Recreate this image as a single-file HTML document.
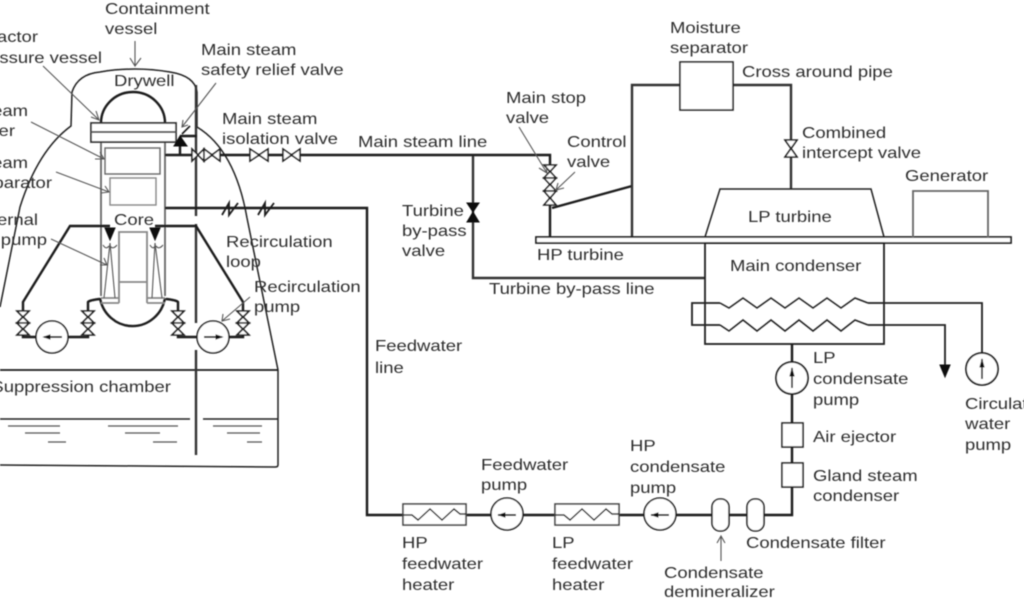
<!DOCTYPE html>
<html><head><meta charset="utf-8"><style>
html,body{margin:0;padding:0;background:#fff;width:1024px;height:600px;overflow:hidden}
svg{display:block}
text{font-family:"Liberation Sans",sans-serif;font-size:16px;fill:#2e2e2e;transform-box:fill-box;transform-origin:0 50%;transform:scaleX(1.155)}
text.e{transform-origin:100% 50%}
.l{fill:none;stroke:#1c1c1c;stroke-width:2.4}
.t{fill:none;stroke:#222;stroke-width:1.5}
.g{fill:none;stroke:#666;stroke-width:1.8}
.a{fill:none;stroke:#555;stroke-width:1.1}
.v{fill:#fff;stroke:#222;stroke-width:1.6}
.s{fill:#111;stroke:#111;stroke-width:1}
</style></head><body>
<svg width="1024" height="600" viewBox="0 0 1024 600" xmlns="http://www.w3.org/2000/svg">
<defs><filter id="b" x="-2%" y="-2%" width="104%" height="104%"><feGaussianBlur stdDeviation="0.55"/></filter></defs>
<g filter="url(#b)">
<!-- containment -->
<path class="t" d="M0 307 L20 207 Q38 150 71 126 L72 92 Q78 74 100 72 Q135 66 170 72 Q195 76 197 92 L197 127 Q235 150 247 218 L278 370 L278 465 Q278 467 275 467 L0 465"/>
<path class="l" style="stroke-width:1.8" d="M0 370 H278"/>
<path class="t" d="M0 419 H190 M203 419 H278"/>
<path class="l" d="M196 85 V127 M196 127 V216 M196 224 V323 M196 350 V455" style="stroke:#333"/>
<g stroke="#555" stroke-width="1.2"><path d="M8 426H60M25 433H60M48 442H66M108 426H178M125 433H160M153 442H177M213 426H262M227 433H260M247 442H262"/></g>
<!-- RPV -->
<path class="g" d="M101 142 V296 M165 142 V296"/>
<path class="l" d="M101 123 A32 31 0 0 1 165 123"/>
<rect x="91" y="123" width="85" height="19" fill="#fff" stroke="#333" stroke-width="1.8"/>
<path d="M91 132 H176" stroke="#555" stroke-width="2"/>
<rect x="105" y="148" width="55" height="26" fill="none" stroke="#666" stroke-width="1.4"/>
<rect x="110" y="178" width="46" height="27" fill="none" stroke="#888" stroke-width="1.4"/>
<path class="l" d="M100 298 A33 34 0 0 0 165 298"/>
<path class="g" style="stroke:#888" d="M119 303 V232 H147 V303 M119 282 H147 M101 303 H119 M147 303 H165 M101 298 H119 M147 298 H165"/>
<path class="a" d="M104 298 L110 243 M115 298 L110 243 M152 298 L155 243 M162 298 L155 243 M103 245 Q106 250 109 246 M110 246 Q113 250 117 245 M150 245 Q153 250 155 246 M156 246 Q159 250 163 245"/>
<!-- recirc -->
<path class="l" d="M110 226 H70 L23 302 V337 H88 V302 Q90 300 100 299"/>
<path class="l" d="M155 226 H196 L243 302 V337 H178 V302 Q176 300 166 299"/>
<path class="s" d="M105 228 H115 L110 240Z M150 228 H160 L155 240Z"/>
<circle cx="52" cy="337" r="16" fill="#fff" stroke="#222" stroke-width="1.6"/>
<circle cx="213" cy="337" r="16" fill="#fff" stroke="#222" stroke-width="1.6"/>
<path d="M44 337 H62 M204 337 H222" stroke="#111" stroke-width="1.8"/>
<path class="s" d="M44 337 L50 335 V339Z M222 337 L216 335 V339Z"/>
<g class="v"><path d="M17 311 H29 L17 323 H29Z"/><path d="M17 323 H29 L17 335 H29Z"/><path d="M82 311 H94 L82 323 H94Z"/><path d="M82 323 H94 L82 335 H94Z"/><path d="M172 311 H184 L172 323 H184Z"/><path d="M172 323 H184 L172 335 H184Z"/><path d="M237 311 H249 L237 323 H249Z"/><path d="M237 323 H249 L237 335 H249Z"/></g>
<!-- main steam -->
<path class="l" d="M165 155 H550 V240"/>
<path class="l" d="M473 156 V278 H705" style="stroke:#333"/>
<path class="l" d="M180 155 V144 M180 136 H197"/>
<path class="s" d="M174 146 H187 L180 136Z"/>
<path class="l" style="stroke-width:1.6" d="M182 134 L190 126"/>
<g class="v"><path d="M192 149 V161 L204 149 V161Z"/><path d="M204 149 V161 L220 149 V161Z"/><path d="M250 149 V161 L268 149 V161Z"/><path d="M283 149 V161 L300 149 V161Z"/></g>
<path class="s" d="M467 203 H479 L473 212 L479 222 H467 L473 212Z"/>
<g class="v"><path d="M544 165 H556 L544 178 H556Z"/><path d="M544 178 H556 L544 191 H556Z"/><path d="M544 191 H556 L544 205 H556Z"/></g>
<path class="l" d="M552 208 L632 186"/>
<path class="l" d="M632 240 V85 H680 M733 85 H791 V140 M791 157 V189" style="stroke:#333"/>
<rect x="680" y="62" width="53" height="48" fill="#fff" stroke="#222" stroke-width="1.6"/>
<path class="v" d="M785 140 H797 L785 157 H797Z"/>
<!-- shaft / turbine -->
<path d="M536 237 H1011 V243 H536Z" fill="#fff" stroke="#222" stroke-width="1.8"/>
<path class="t" d="M705 237 L720 189 H871 L884 237"/>
<path class="g" d="M913 238 V191 H988 V238"/>
<rect x="705" y="243" width="179" height="101" fill="none" stroke="#222" stroke-width="1.8"/>
<path class="t" style="stroke-width:1.8" d="M868 303 H982 V355 M868 325 H945 V372 M720 303 H692 V325 H720"/>
<path class="t" d="M720 303 L729 308 L743 298 L757 308 L771 298 L785 308 L799 298 L813 308 L827 298 L841 308 L855 298 L868 303"/>
<path class="t" d="M720 325 L729 331 L743 320 L757 331 L771 320 L785 331 L799 320 L813 331 L827 320 L841 331 L855 320 L868 325"/>
<path class="s" d="M940 365 H950 L945 377Z"/>
<circle cx="982" cy="369" r="16" fill="#fff" stroke="#222" stroke-width="1.8"/>
<path d="M982 359 V379" stroke="#111" stroke-width="1.6"/><path class="s" d="M982 360 L980 367 H984Z"/>
<!-- condensate -->
<path class="l" d="M792 344 V515 H367 V208 H165"/>
<circle cx="792" cy="378" r="16" fill="#fff" stroke="#222" stroke-width="1.8"/>
<path d="M792 368 V388" stroke="#111" stroke-width="1.6"/><path class="s" d="M792 369 L790 376 H794Z"/>
<rect x="782" y="423" width="21" height="24" fill="#fff" stroke="#222" stroke-width="1.6"/>
<rect x="782" y="463" width="21" height="24" fill="#fff" stroke="#222" stroke-width="1.6"/>
<rect x="403" y="504" width="63" height="21" fill="#fff" stroke="#444" stroke-width="1.6"/>
<rect x="555" y="504" width="64" height="21" fill="#fff" stroke="#444" stroke-width="1.6"/>
<path class="t" d="M403 515 H412 L418 520 L430 509 L442 520 L454 509 L460 514 H466 M555 515 H564 L570 520 L582 509 L594 520 L606 509 L612 514 H619"/>
<circle cx="507" cy="514" r="16" fill="#fff" stroke="#222" stroke-width="1.6"/>
<circle cx="660" cy="514" r="16" fill="#fff" stroke="#222" stroke-width="1.6"/>
<path d="M498 515 H516 M651 515 H669" stroke="#111" stroke-width="1.8"/>
<path class="s" d="M499 515 L505 513 V517Z M652 515 L658 513 V517Z"/>
<rect x="712" y="499" width="17" height="32" rx="8" fill="#fff" stroke="#222" stroke-width="1.6"/>
<rect x="747" y="499" width="17" height="32" rx="8" fill="#fff" stroke="#222" stroke-width="1.6"/>
<!-- check valves -->
<path class="l" style="stroke-width:1.8" d="M222 215 L229 203 V215 L238 203 M258 215 L265 203 V215 L274 203"/>
<!-- leaders -->
<g class="a">
<path d="M135 41 V66 M130 58 L135 66 L141 58"/>
<path d="M43 66 L99 120 M91 117 L99 120 L96 111"/>
<path d="M31 122 L104 159 M95 159 L104 159 L100 152"/>
<path d="M56 172 L109 192 M101 193 L109 192 L105 186"/>
<path d="M51 239 L107 265 M100 265 L107 265 L104 258"/>
<path d="M216 83 L182 127 M188 125 L182 127 L183 120"/>
<path d="M250 297 L222 321 M223 314 L222 321 L230 319"/>
<path d="M519 127 L547 173 M539 168 L547 173 L546 164"/>
<path d="M575 172 L556 190 M558 183 L556 190 L564 188"/>
<path d="M721 561 V536 M717 543 L721 536 L725 543"/>
</g>
<!-- labels -->
<text x="105" y="14">Containment</text><text x="105" y="34">vessel</text>
<text class="e" x="38" y="42" text-anchor="end">Reactor</text><text class="e" x="102" y="63" text-anchor="end">pressure vessel</text>
<text class="e" x="28" y="116" text-anchor="end">Steam</text><text class="e" x="15" y="136" text-anchor="end">dryer</text>
<text class="e" x="28" y="168" text-anchor="end">Steam</text><text class="e" x="52" y="188" text-anchor="end">separator</text>
<text class="e" x="38" y="225" text-anchor="end">Internal</text><text class="e" x="47" y="245" text-anchor="end">pump</text>
<text x="114" y="86">Drywell</text><text x="114" y="225">Core</text>
<text x="201" y="55">Main steam</text><text x="201" y="75">safety relief valve</text>
<text x="222" y="124">Main steam</text><text x="222" y="144">isolation valve</text>
<text x="358" y="147">Main steam line</text>
<text x="506" y="103">Main stop</text><text x="506" y="123">valve</text>
<text x="567" y="147">Control</text><text x="567" y="167">valve</text>
<text x="670" y="33">Moisture</text><text x="670" y="53">separator</text>
<text x="742" y="77">Cross around pipe</text>
<text x="802" y="138">Combined</text><text x="802" y="158">intercept valve</text>
<text x="905" y="181">Generator</text>
<text x="748" y="222">LP turbine</text>
<text x="537" y="260">HP turbine</text>
<text x="730" y="271">Main condenser</text>
<text x="402" y="216">Turbine</text><text x="402" y="236">by-pass</text><text x="402" y="256">valve</text>
<text x="489" y="294">Turbine by-pass line</text>
<text x="226" y="247">Recirculation</text><text x="226" y="267">loop</text>
<text x="254" y="292">Recirculation</text><text x="254" y="312">pump</text>
<text x="375" y="351">Feedwater</text><text x="375" y="373">line</text>
<text class="e" x="171" y="392" text-anchor="end">Suppression chamber</text>
<text x="813" y="363">LP</text><text x="813" y="384">condensate</text><text x="813" y="405">pump</text>
<text x="965" y="409">Circulating</text><text x="965" y="429">water</text><text x="965" y="450">pump</text>
<text x="813" y="442">Air ejector</text>
<text x="813" y="481">Gland steam</text><text x="813" y="501">condenser</text>
<text x="630" y="451">HP</text><text x="630" y="472">condensate</text><text x="630" y="493">pump</text>
<text x="481" y="470">Feedwater</text><text x="481" y="490">pump</text>
<text x="746" y="548">Condensate filter</text>
<text x="402" y="548">HP</text><text x="402" y="569">feedwater</text><text x="402" y="590">heater</text>
<text x="552" y="548">LP</text><text x="552" y="569">feedwater</text><text x="552" y="590">heater</text>
<text x="664" y="578">Condensate</text><text x="664" y="597">demineralizer</text>
</g>
</svg>
</body></html>
